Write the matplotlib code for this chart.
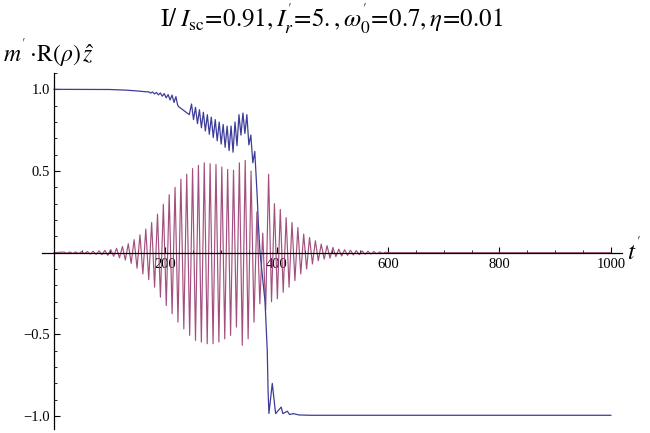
import numpy as np
import matplotlib
matplotlib.use('Agg')
import matplotlib.pyplot as plt
from matplotlib.ticker import MultipleLocator, FixedLocator

#============ datos =================================
# curva azul: m'.R(rho).z  (t, valor)
blue_t = [0, 100, 130, 150, 165,
          170, 173.5, 177, 180.5, 184, 187.5, 191, 194.5, 198, 201.5,
          205, 208.5, 212, 215.5, 219, 222, 223.5, 243,
          247, 250.55, 254.1, 257.65, 261.2, 264.75, 268.3, 271.85,
          275.4, 278.95, 282.5, 286.05, 289.6, 293.15, 296.7, 300.25,
          303.8, 307.35, 310.9, 314.45, 318, 321.55, 325.1, 328.65,
          332.2, 335.75, 339.3, 342.85, 346.4, 349.95, 353.5, 357.05,
          360.6, 365, 367, 370, 376, 379, 383, 384.5,
          386, 392, 398, 408, 411, 419, 423, 430,
          440, 460, 1000]
blue_v = [1.0, 0.999, 0.995, 0.99, 0.985,
          0.985, 0.977, 0.984, 0.972, 0.981, 0.966, 0.978, 0.958, 0.974, 0.948,
          0.968, 0.935, 0.965, 0.92, 0.955, 0.905, 0.895, 0.845,
          0.91, 0.815, 0.89, 0.79, 0.875, 0.765, 0.86, 0.745,
          0.845, 0.725, 0.83, 0.705, 0.815, 0.685, 0.80, 0.665,
          0.785, 0.645, 0.775, 0.625, 0.775, 0.615, 0.80, 0.655,
          0.845, 0.72, 0.855, 0.73, 0.845, 0.66, 0.72, 0.55,
          0.62, 0.34, 0.18, 0.0, -0.2, -0.3, -0.6, -0.85,
          -0.984, -0.80, -0.985, -0.945, -0.985, -0.97, -0.99, -0.985,
          -0.993, -0.995, -0.995]

# curva morada: maximos y minimos de la oscilacion
peak_t = [17.9, 28.4, 38.9, 49.4, 59.9, 70.4, 80.9, 91.4,
          101.9, 112.4, 122.9, 133.4, 143.9, 154.4, 164.9, 175.4,
          185.9, 196.4, 206.9, 217.4, 227.9, 238.4, 248.9, 259.4,
          269.9, 280.4, 290.9, 301.4, 311.9, 322.4, 332.9, 343.4,
          353.9, 364.4, 374.9, 385.4, 395.9, 406.4, 416.9, 427.4,
          437.9, 448.4, 458.9, 469.4, 479.9, 490.4, 500.9, 511.4,
          521.9, 532.4, 542.9, 553.4, 563.9, 574.4, 584.9, 595.4]
peak_v = [0.004, 0.005, 0.005, 0.006, 0.007, 0.009, 0.011, 0.014,
          0.019, 0.027, 0.038, 0.055, 0.08, 0.11, 0.145, 0.185,
          0.236, 0.297, 0.355, 0.40, 0.45, 0.48, 0.515, 0.535,
          0.55, 0.545, 0.54, 0.525, 0.51, 0.505, 0.55, 0.565,
          0.50, 0.25, 0.12, 0.48, 0.30, 0.265, 0.215, 0.185,
          0.154, 0.114, 0.093, 0.073, 0.053, 0.043, 0.032, 0.022,
          0.018, 0.015, 0.013, 0.011, 0.009, 0.007, 0.005, 0.003]
trough_t = [23.15, 33.65, 44.15, 54.65, 65.15, 75.65, 86.15, 96.65,
            107.15, 117.65, 128.15, 138.65, 149.15, 159.65, 170.15, 180.65,
            191.15, 201.65, 212.15, 222.65, 233.15, 243.65, 254.15, 264.65,
            275.15, 285.65, 296.15, 306.65, 317.15, 327.65, 338.15, 348.65,
            359.15, 369.65, 380.15, 390.65, 401.15, 411.65, 422.15, 432.65,
            443.15, 453.65, 464.15, 474.65, 485.15, 495.65, 506.15, 516.65,
            527.15, 537.65, 548.15, 558.65, 569.15, 579.65, 590.15]
trough_v = [-0.004, -0.005, -0.005, -0.006, -0.008, -0.010, -0.012, -0.016,
            -0.022, -0.031, -0.045, -0.065, -0.095, -0.13, -0.165, -0.211,
            -0.272, -0.323, -0.374, -0.425, -0.466, -0.506, -0.537, -0.547,
            -0.557, -0.557, -0.547, -0.527, -0.506, -0.455, -0.567, -0.527,
            -0.425, -0.313, -0.35, -0.30, -0.282, -0.242, -0.211, -0.171,
            -0.130, -0.100, -0.069, -0.049, -0.039, -0.033, -0.024, -0.020,
            -0.016, -0.014, -0.012, -0.010, -0.008, -0.006, -0.004]

x_ticks = [200, 400, 600, 800, 1000]
y_ticks = [-1.0, -0.5, 0.5, 1.0]

#============ figura =============
plt.rcParams['font.family'] = ['Liberation Serif', 'DejaVu Serif']
plt.rcParams['mathtext.fontset'] = 'stix'

c_blue = (0.24, 0.24, 0.6)
c_purple = (0.6, 0.24, 0.442)

# serie morada: se intercalan maximos y minimos
pts = sorted(zip(peak_t + trough_t, peak_v + trough_v))
purple_t = [0] + [p[0] for p in pts] + [600, 1000]
purple_v = [0] + [p[1] for p in pts] + [0, 0]

fig = plt.figure(figsize=(6.5, 4.33), dpi=100)
ax = fig.add_axes([42/650, 4/433, 580/650, 356/433])

ax.plot(purple_t, purple_v, color=c_purple, lw=0.85, alpha=0.9)
ax.plot(blue_t, blue_v, color=c_blue, lw=0.9)

ax.set_xlim(-21.5, 1020)
ax.set_ylim(-1.079, 1.1)

for s in ['top', 'right']:
    ax.spines[s].set_visible(False)
ax.spines['left'].set_position(('data', 0))
ax.spines['bottom'].set_position(('data', 0))
ax.spines['left'].set_linewidth(0.9)
ax.spines['bottom'].set_linewidth(0.9)

ax.xaxis.set_major_locator(FixedLocator(x_ticks))
ax.xaxis.set_minor_locator(MultipleLocator(50))
ax.yaxis.set_major_locator(FixedLocator(y_ticks))
ax.yaxis.set_minor_locator(MultipleLocator(0.1))
ax.set_xticklabels([str(v) for v in x_ticks])
ax.set_yticklabels([f'{v:.1f}'.replace('-', '\u2212') for v in y_ticks])
ax.tick_params(which='major', direction='in', length=4, width=0.8, labelsize=10.5, pad=3)
ax.tick_params(which='minor', direction='in', length=2, width=0.6)
ax.tick_params(axis='x', which='major', pad=4)

fig.text(0.51, 0.955, r"$\mathrm{I}/\;I_{\mathrm{sc}}\!=\!0.91,I_r^{'}\!=\!5.,\omega_0^{'}\!=\!0.7,\eta\!=\!0.01$",
         ha='center', va='center', fontsize=18)
fig.text(0.005, 0.875, r"$m^{'}\,{\cdot}\mathrm{R}(\rho)\,\hat{z}$", ha='left', va='center', fontsize=17)
fig.text(0.965, 0.42, r"$t^{'}$", ha='left', va='center', fontsize=18)

fig.savefig('out.png', dpi=100)
